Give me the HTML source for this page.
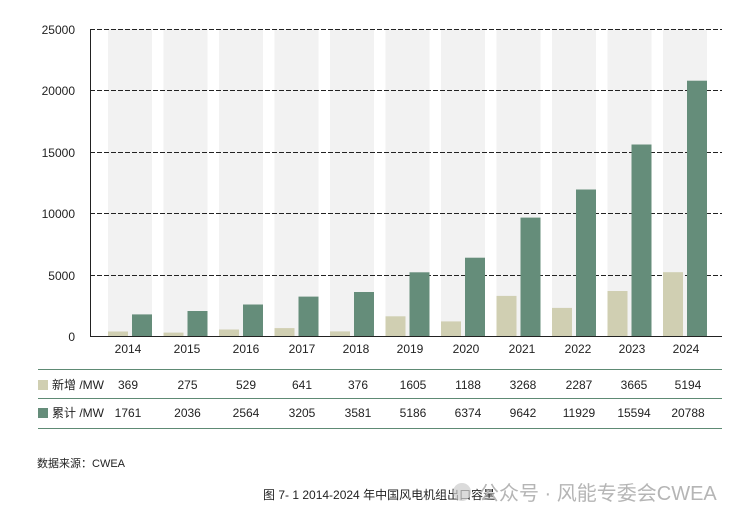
<!DOCTYPE html>
<html><head><meta charset="utf-8"><style>
body{margin:0;background:#fff;}
svg text{font-family:"Liberation Sans","Noto Sans CJK SC",sans-serif;fill:#222;}
</style></head><body>
<svg width="752" height="524" viewBox="0 0 752 524" xmlns="http://www.w3.org/2000/svg">
<g fill="#f2f2f2">
<rect x="108" y="29" width="44" height="307"/><rect x="163.5" y="29" width="44" height="307"/><rect x="219" y="29" width="44" height="307"/><rect x="274.5" y="29" width="44" height="307"/><rect x="330" y="29" width="44" height="307"/><rect x="385.5" y="29" width="44" height="307"/><rect x="441" y="29" width="44" height="307"/><rect x="496.5" y="29" width="44" height="307"/><rect x="552" y="29" width="44" height="307"/><rect x="607.5" y="29" width="44" height="307"/><rect x="663" y="29" width="44" height="307"/>
</g>
<g stroke="#222" stroke-width="1" stroke-dasharray="5,2">
<line x1="90" x2="722" y1="29.5" y2="29.5"/><line x1="90" x2="722" y1="90.5" y2="90.5"/><line x1="90" x2="722" y1="152.5" y2="152.5"/><line x1="90" x2="722" y1="213.5" y2="213.5"/><line x1="90" x2="722" y1="275.5" y2="275.5"/>
</g>
<g fill="#d0cfb2">
<rect x="108" y="331.5" width="20" height="4.5"/><rect x="163.5" y="332.6" width="20" height="3.4"/><rect x="219" y="329.5" width="20" height="6.5"/><rect x="274.5" y="328.1" width="20" height="7.9"/><rect x="330" y="331.4" width="20" height="4.6"/><rect x="385.5" y="316.3" width="20" height="19.7"/><rect x="441" y="321.4" width="20" height="14.6"/><rect x="496.5" y="295.9" width="20" height="40.1"/><rect x="552" y="307.9" width="20" height="28.1"/><rect x="607.5" y="291" width="20" height="45"/><rect x="663" y="272.2" width="20" height="63.8"/>
</g>
<g fill="#658d7a">
<rect x="132" y="314.4" width="20" height="21.6"/><rect x="187.5" y="311" width="20" height="25"/><rect x="243" y="304.5" width="20" height="31.5"/><rect x="298.5" y="296.6" width="20" height="39.4"/><rect x="354" y="292" width="20" height="44"/><rect x="409.5" y="272.3" width="20" height="63.7"/><rect x="465" y="257.7" width="20" height="78.3"/><rect x="520.5" y="217.6" width="20" height="118.4"/><rect x="576" y="189.5" width="20" height="146.5"/><rect x="631.5" y="144.5" width="20" height="191.5"/><rect x="687" y="80.7" width="20" height="255.3"/>
</g>
<line x1="90.5" x2="90.5" y1="29" y2="337" stroke="#222"/>
<line x1="90" x2="722" y1="336.5" y2="336.5" stroke="#222"/>
<g font-size="12" text-anchor="end">
<text x="75" y="34">25000</text><text x="75" y="95">20000</text><text x="75" y="157">15000</text><text x="75" y="218">10000</text><text x="75" y="280">5000</text><text x="75" y="341">0</text>
</g>
<g font-size="12" text-anchor="middle">
<text x="128" y="353">2014</text><text x="187" y="353">2015</text><text x="246" y="353">2016</text><text x="302" y="353">2017</text><text x="356" y="353">2018</text><text x="410" y="353">2019</text><text x="466" y="353">2020</text><text x="522" y="353">2021</text><text x="578" y="353">2022</text><text x="632" y="353">2023</text><text x="686" y="353">2024</text>
</g>
<g stroke="#5e8a74" stroke-width="1">
<line x1="38" x2="722" y1="369.5" y2="369.5"/><line x1="38" x2="722" y1="398.5" y2="398.5"/><line x1="38" x2="722" y1="428.5" y2="428.5"/>
</g>
<rect x="38" y="380" width="10" height="10" fill="#d0cfb2"/>
<rect x="38" y="408" width="10" height="10" fill="#658d7a"/>
<text x="52" y="389" font-size="12">新增 /MW</text>
<text x="52" y="417" font-size="12">累计 /MW</text>
<g font-size="12" text-anchor="middle">
<text x="128" y="389">369</text><text x="187.5" y="389">275</text><text x="246" y="389">529</text><text x="302" y="389">641</text><text x="358" y="389">376</text><text x="413" y="389">1605</text><text x="468" y="389">1188</text><text x="523" y="389">3268</text><text x="579" y="389">2287</text><text x="634" y="389">3665</text><text x="688" y="389">5194</text>
<text x="128" y="417">1761</text><text x="187.5" y="417">2036</text><text x="246" y="417">2564</text><text x="302" y="417">3205</text><text x="358" y="417">3581</text><text x="413" y="417">5186</text><text x="468" y="417">6374</text><text x="523" y="417">9642</text><text x="579" y="417">11929</text><text x="634" y="417">15594</text><text x="688" y="417">20788</text>
</g>
<text x="37" y="467" font-size="11">数据来源：CWEA</text>
<text x="263" y="499" font-size="12">图 7- 1 2014-2024 年中国风电机组出口容量</text>
<circle cx="462" cy="492" r="9" fill="#ccc" opacity="0.7"/>
<text x="479" y="500" font-size="20" style="fill:#b5b5b5">公众号 · 风能专委会CWEA</text>
</svg>
</body></html>
